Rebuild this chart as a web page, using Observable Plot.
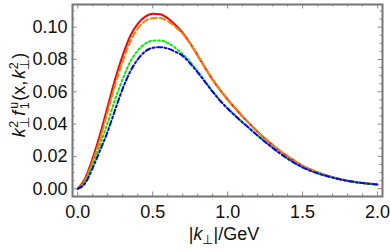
<!DOCTYPE html>
<html>
<head>
<meta charset="utf-8">
<script src="https://cdn.jsdelivr.net/npm/d3@7"></script>
<script src="https://cdn.jsdelivr.net/npm/@observablehq/plot@0.6"></script>
<style>
  html, body { margin: 0; padding: 0; background: #fff; }
  svg { display: block; }
</style>
</head>
<body>
<div id="chart"></div>
<script>
// |k_perp| in GeV
const kPerp = [0,0.05,0.1,0.15,0.2,0.25,0.3,0.35,0.4,0.45,0.5,0.55,0.6,0.65,0.7,0.75,0.8,0.85,0.9,0.95,1.0,1.05,1.1,1.15,1.2,1.25,1.3,1.35,1.4,1.45,1.5,1.55,1.6,1.65,1.7,1.75,1.8,1.85,1.9,1.95,2.0];
// red solid
const fSolid = [0,0.0065,0.019,0.034,0.051,0.068,0.0825,0.0945,0.102,0.1065,0.1083,0.108,0.1055,0.1015,0.0965,0.090,0.0825,0.0748,0.0675,0.061,0.0552,0.0498,0.0446,0.0398,0.0352,0.0310,0.0270,0.0233,0.0200,0.0170,0.0141,0.0120,0.0101,0.0085,0.0071,0.0059,0.0050,0.0042,0.0036,0.0031,0.0027];
// orange dashed
const fDashed = [0,0.0055,0.017,0.031,0.048,0.0645,0.079,0.091,0.099,0.1038,0.1055,0.1056,0.1037,0.1003,0.0958,0.0898,0.0822,0.0747,0.0675,0.0610,0.0553,0.0499,0.0447,0.0399,0.0353,0.0311,0.0271,0.0234,0.0201,0.0171,0.0142,0.0121,0.0102,0.0086,0.0072,0.0060,0.0050,0.0043,0.0036,0.0031,0.0027];
// green dotted
const fDotted = [0,0.0045,0.015,0.0275,0.041,0.0555,0.068,0.0785,0.0855,0.0898,0.0916,0.0917,0.0902,0.0872,0.0833,0.0785,0.0727,0.0664,0.0603,0.0547,0.0498,0.0454,0.0411,0.0370,0.0330,0.0291,0.0254,0.0219,0.0187,0.0158,0.0133,0.0113,0.0096,0.0081,0.0069,0.0058,0.0049,0.0041,0.0035,0.0030,0.0026];
// blue dot-dashed
const fDotDashed = [0,0.0035,0.013,0.024,0.0355,0.049,0.062,0.0725,0.080,0.085,0.0872,0.0876,0.0868,0.0848,0.0822,0.0775,0.0720,0.0660,0.0600,0.0544,0.0496,0.0452,0.0410,0.0369,0.0329,0.0290,0.0253,0.0218,0.0186,0.0157,0.0132,0.0112,0.0095,0.0081,0.0069,0.0058,0.0049,0.0041,0.0035,0.0030,0.0026];

const xMajor = [0, 0.5, 1.0, 1.5, 2.0];
const xMinor = [0.1,0.2,0.3,0.4,0.6,0.7,0.8,0.9,1.1,1.2,1.3,1.4,1.6,1.7,1.8,1.9];
const yMajor = [0, 0.02, 0.04, 0.06, 0.08, 0.10];
const yMinor = [0.005,0.01,0.015,0.025,0.03,0.035,0.045,0.05,0.055,0.065,0.07,0.075,0.085,0.09,0.095,0.105,0.11];

const seriesDefs = [
  {name: "solid", values: fSolid, color: "#ff0000", dash: null},
  {name: "dashed", values: fDashed, color: "#ff8000", dash: "6,3"},
  {name: "dotted", values: fDotted, color: "#00ee00", dash: "2,2.5"},
  {name: "dotdashed", values: fDotDashed, color: "#0000ff", dash: "5,2.5,2,2.5"}
];

const W = 390, H = 252;
const mL = 72, mR = 8, mT = 4, mB = 56;
const fw = W - mL - mR, fh = H - mT - mB;

const lineMarks = seriesDefs.map(s => Plot.line(
  kPerp.map((k, i) => ({k, v: s.values[i]})),
  {x: "k", y: "v", stroke: s.color, strokeWidth: 2, strokeDasharray: s.dash, curve: "monotone-x"}
));

const tickColor = "#8a8a8a";
const svg = Plot.plot({
  width: W, height: H,
  marginLeft: mL, marginRight: mR, marginTop: mT, marginBottom: mB,
  style: {fontFamily: "'Liberation Sans', Arial, sans-serif", fontSize: "18px", color: "#111", background: "#fff"},
  x: {domain: [-0.035, 2.033]},
  y: {domain: [-0.0048, 0.114]},
  marks: [
    Plot.tickX(xMajor, {x: d => d, stroke: tickColor, insetTop: fh - 4.5}),
    Plot.tickX(xMajor, {x: d => d, stroke: tickColor, insetBottom: fh - 4.5}),
    Plot.tickX(xMinor, {x: d => d, stroke: tickColor, insetTop: fh - 2.5}),
    Plot.tickX(xMinor, {x: d => d, stroke: tickColor, insetBottom: fh - 2.5}),
    Plot.tickY(yMajor, {y: d => d, stroke: tickColor, insetRight: fw - 4.5}),
    Plot.tickY(yMajor, {y: d => d, stroke: tickColor, insetLeft: fw - 4.5}),
    Plot.tickY(yMinor, {y: d => d, stroke: tickColor, insetRight: fw - 2.5}),
    Plot.tickY(yMinor, {y: d => d, stroke: tickColor, insetLeft: fw - 2.5}),
    ...lineMarks,
    Plot.frame({stroke: "#777", strokeWidth: 2}),
    Plot.axisX({ticks: xMajor, tickSize: 0, tickPadding: 9, tickFormat: d3.format(".1f"), label: null}),
    Plot.axisY({ticks: yMajor, tickSize: 0, tickPadding: 5, tickFormat: d3.format(".2f"), label: null})
  ]
});

const s = d3.select(svg);
const fam = "'Liberation Sans', Arial, sans-serif";

// y label: k⊥² f1u(x, k⊥²)
const yl = s.append("text")
  .attr("transform", `translate(25,${mT + fh / 2 - 5}) rotate(-90)`)
  .attr("text-anchor", "middle")
  .attr("font-family", fam).attr("font-size", 18).attr("fill", "#111");
const sc = 12.5;
yl.append("tspan").attr("font-style", "italic").text("k");
yl.append("tspan").attr("font-size", sc).attr("dy", -7).attr("dx", 0.5).text("2");
yl.append("tspan").attr("font-size", sc).attr("dx", -7.5).attr("dy", 11).text("⊥");
yl.append("tspan").attr("font-style", "italic").attr("dy", -4).attr("dx", 1.5).text("f");
yl.append("tspan").attr("font-size", sc).attr("dy", -7).attr("dx", 2).text("u");
yl.append("tspan").attr("font-size", sc).attr("dx", -7.5).attr("dy", 11).text("1");
yl.append("tspan").attr("dy", -4).attr("dx", 1.5).text("(x,");
yl.append("tspan").attr("font-style", "italic").attr("dx", 2).text("k");
yl.append("tspan").attr("font-size", sc).attr("dy", -7).attr("dx", 0.5).text("2");
yl.append("tspan").attr("font-size", sc).attr("dx", -7.5).attr("dy", 11).text("⊥");
yl.append("tspan").attr("dy", -4).text(")");

// x label: |k⊥|/GeV
const xl = s.append("text")
  .attr("x", mL + fw / 2 - 3).attr("y", 240)
  .attr("text-anchor", "middle")
  .attr("font-family", fam).attr("font-size", 18).attr("fill", "#111");
xl.append("tspan").text("|");
xl.append("tspan").attr("font-style", "italic").text("k");
xl.append("tspan").attr("font-size", sc).attr("dy", 4).text("⊥");
xl.append("tspan").attr("dy", -4).text("|/GeV");

document.getElementById("chart").appendChild(svg);
</script>
</body>
</html>
